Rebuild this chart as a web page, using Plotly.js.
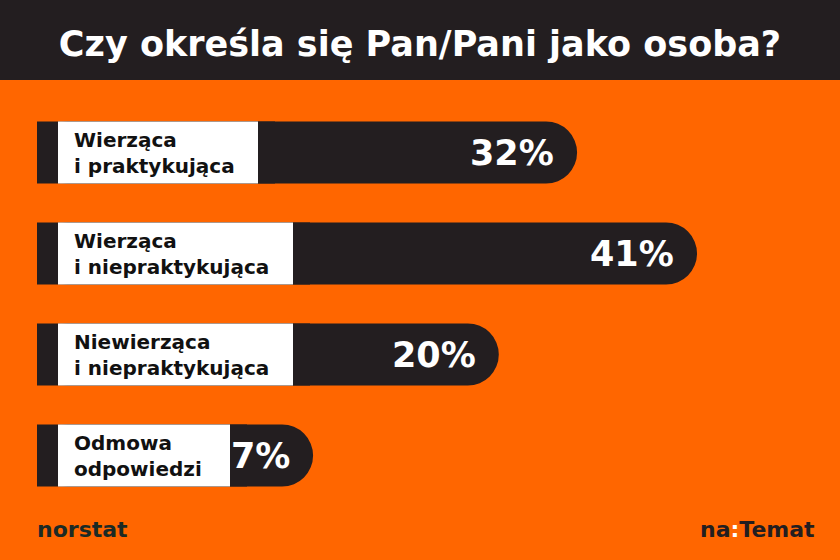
<!DOCTYPE html>
<html>
<head>
<meta charset="utf-8">
<script src="https://cdn.plot.ly/plotly-3.0.1.min.js"></script>
<style>html,body{margin:0;padding:0;background:#FF6600;}#chart{width:840px;height:560px;}</style>
</head>
<body>
<div id="chart"></div>
<script>
// ---- data ----
const categories = ["Wierząca<br>i praktykująca", "Wierząca<br>i niepraktykująca", "Niewierząca<br>i niepraktykująca", "Odmowa<br>odpowiedzi"];
const values = [32, 41, 20, 7];
const valueLabels = ["32%", "41%", "20%", "7%"];
const titleText = "Czy określa się Pan/Pani jako osoba?";

// ---- style / geometry constants (pixels) ----
const W = 840, H = 560;
const PX_PER_UNIT = 9.44;          // horizontal scale: px per percentage point
const BAR_LEFT = 37;               // bar start (axis 0)
const BOX_LEFT = 58;               // white label box start
const BOX_RIGHT = [258, 293, 293, 230]; // white label box end per row
const CAP = 17;                    // extra length for the rounded cap
const TOP = 102, BOTTOM = 54;      // plot margins
const plotH = H - TOP - BOTTOM;
const ORANGE = "#FF6600", DARK = "#231E20";
const FONT = "DejaVu Sans, Open Sans, sans-serif";

const u = px => px / PX_PER_UNIT;  // px -> axis units
const labelUnits = BOX_RIGHT.map(r => u(r - BAR_LEFT + CAP));
const barLen = values.map((v, i) => labelUnits[i] + v);

const BARW = 0.614;
const darkBars = {
  type: "bar", orientation: "h",
  y: categories, x: barLen, base: 0,
  width: BARW,
  marker: {color: DARK, cornerradius: 31, line: {width: 0}},
  hoverinfo: "skip", showlegend: false
};
const darkStub = {
  type: "bar", orientation: "h",
  y: categories, x: labelUnits, base: 0,
  width: BARW,
  marker: {color: DARK, line: {width: 0}},
  hoverinfo: "skip", showlegend: false
};
const whiteBoxes = {
  type: "bar", orientation: "h",
  y: categories, x: BOX_RIGHT.map(r => u(r - BOX_LEFT)), base: u(BOX_LEFT - BAR_LEFT),
  width: BARW,
  marker: {color: "#FFFFFF", line: {width: 0}},
  hoverinfo: "skip", showlegend: false
};

const annotations = [];
categories.forEach((c, i) => {
  annotations.push({
    x: u(72 - BAR_LEFT), y: c, xref: "x", yref: "y",
    text: c, showarrow: false, xanchor: "left", yanchor: "middle", align: "left",
    font: {family: FONT, size: 20, color: "#111111", weight: 700}
  });
  annotations.push({
    x: barLen[i], y: c, xref: "x", yref: "y", xshift: -21,
    text: valueLabels[i], showarrow: false, xanchor: "right", yanchor: "middle",
    font: {family: FONT, size: 35, color: "#FFFFFF", weight: 700}
  });
});
const pyToPaper = py => (H - BOTTOM - py) / plotH;
annotations.push({
  x: 35 / W, y: pyToPaper(529), xref: "paper", yref: "paper",
  text: "norstat", showarrow: false, xanchor: "left", yanchor: "middle",
  font: {family: FONT, size: 22, color: "#1B2A25", weight: 700}
});
annotations.push({
  x: 817 / W, y: pyToPaper(529), xref: "paper", yref: "paper",
  text: "na<span style=\"color:#FFFFFF\">:</span>Temat", showarrow: false, xanchor: "right", yanchor: "middle",
  font: {family: FONT, size: 22, color: DARK, weight: 700}
});

const layout = {
  width: W, height: H,
  margin: {l: 0, r: 0, t: TOP, b: BOTTOM, pad: 0},
  paper_bgcolor: ORANGE, plot_bgcolor: ORANGE,
  barmode: "overlay",
  title: {
    text: titleText, x: 0.5, xanchor: "center", xref: "paper",
    y: 1 - 44 / H, yanchor: "middle", yref: "container",
    font: {family: FONT, size: 35, color: "#FFFFFF", weight: 700}
  },
  xaxis: {range: [u(-BAR_LEFT), u(W - BAR_LEFT)], visible: false, fixedrange: true},
  yaxis: {type: "category", categoryorder: "array", categoryarray: categories, autorange: "reversed", visible: false, fixedrange: true},
  shapes: [{
    type: "rect", xref: "paper", yref: "paper", x0: 0, x1: 1,
    y0: pyToPaper(80), y1: pyToPaper(0), fillcolor: DARK, line: {width: 0}, layer: "below"
  }],
  annotations: annotations
};

Plotly.newPlot("chart", [darkBars, darkStub, whiteBoxes], layout, {displayModeBar: false, staticPlot: true});
</script>
</body>
</html>
